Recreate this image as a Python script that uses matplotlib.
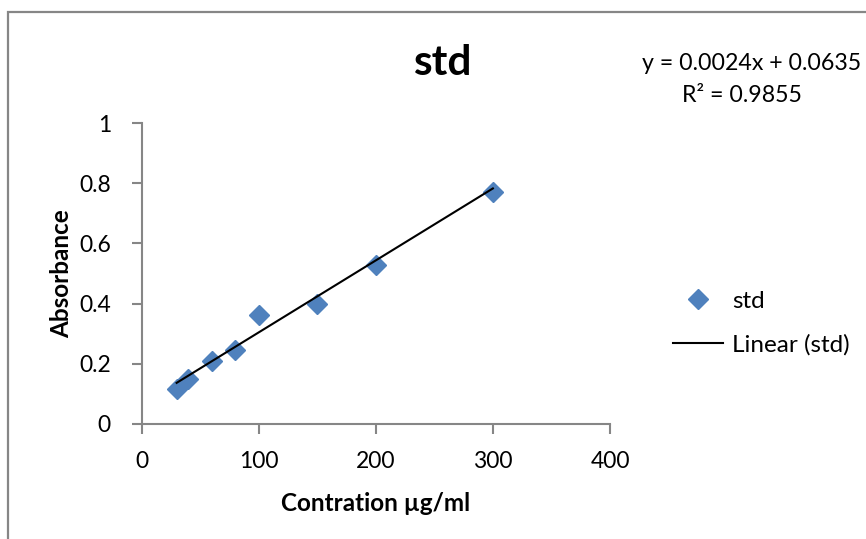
import matplotlib
matplotlib.use("Agg")
import matplotlib.pyplot as plt
from matplotlib.patches import Rectangle
from matplotlib.lines import Line2D
import numpy as np

plt.rcParams['font.family'] = ['Lato', 'DejaVu Sans']

# Data
concentration = [30, 40, 60, 80, 100, 150, 200, 300]
absorbance = [0.115, 0.150, 0.207, 0.245, 0.362, 0.398, 0.527, 0.773]
slope = 0.0024
intercept = 0.0635
x_ticks = [0, 100, 200, 300, 400]
y_ticks = [0, 0.2, 0.4, 0.6, 0.8, 1]
y_tick_labels = ['0', '0.2', '0.4', '0.6', '0.8', '1']
title = 'std'
x_label = 'Contration µg/ml'
y_label = 'Absorbance'
series_name = 'std'
trend_name = 'Linear (std)'
eq_line1 = 'y = 0.0024x + 0.0635'
eq_line2 = 'R² = 0.9855'

W, H = 866, 539
fig = plt.figure(figsize=(W / 100, H / 100), dpi=100)

def fx(px):
    return px / W

def fy(py):
    return 1 - py / H

# outer chart frame (left and top visible)
fig.patches.append(Rectangle((fx(8), fy(600)), 2.0, fy(12) - fy(600),
                             transform=fig.transFigure, fill=False,
                             edgecolor='#868686', linewidth=1.6, zorder=0))

ax = fig.add_axes([fx(141.5), fy(423.5), fx(610) - fx(141.5), fy(123.5) - fy(423.5)])
ax.set_xlim(0, 400)
ax.set_ylim(0, 1)

blue = '#4F81BD'
ax.plot(concentration, absorbance, linestyle='none', marker='D',
        markersize=10, color=blue, markeredgecolor=blue, zorder=3,
        clip_on=False)
xs = np.array([min(concentration), max(concentration)])
ax.plot(xs, slope * xs + intercept, color='black', linewidth=1.5, zorder=4)

for s in ['top', 'right']:
    ax.spines[s].set_visible(False)
for s in ['left', 'bottom']:
    ax.spines[s].set_color('#868686')
    ax.spines[s].set_linewidth(1.5)

ax.set_xticks(x_ticks)
ax.set_xticklabels([str(t) for t in x_ticks])
ax.set_yticks(y_ticks)
ax.set_yticklabels(y_tick_labels)
ax.tick_params(axis='both', direction='out', length=7, width=1.5,
               color='#868686', labelsize=16.5, labelcolor='black')
ax.tick_params(axis='x', pad=13)
ax.tick_params(axis='y', pad=15)

ax.set_xlabel(x_label, fontsize=17.5, fontweight='bold', labelpad=14)
ax.set_ylabel(y_label, fontsize=17.5, fontweight='bold', labelpad=4.5)

fig.text(fx(442), fy(63), title, fontsize=30.5, fontweight='bold',
         ha='center', va='center')
fig.text(fx(752), fy(64), eq_line1, fontsize=16.7, ha='center', va='center')
fig.text(fx(742), fy(95), eq_line2, fontsize=16.7, ha='center', va='center')

handles = [Line2D([], [], linestyle='none', marker='D', markersize=10,
                  color=blue),
           Line2D([], [], color='black', linewidth=1.5)]
fig.legend(handles, [series_name, trend_name], loc='center left',
           bbox_to_anchor=(fx(673), fy(323)), frameon=False, fontsize=17.5,
           handlelength=2.06, handletextpad=0.37, labelspacing=0.91,
           borderaxespad=0, borderpad=0)

fig.savefig('out.png', dpi=100)
